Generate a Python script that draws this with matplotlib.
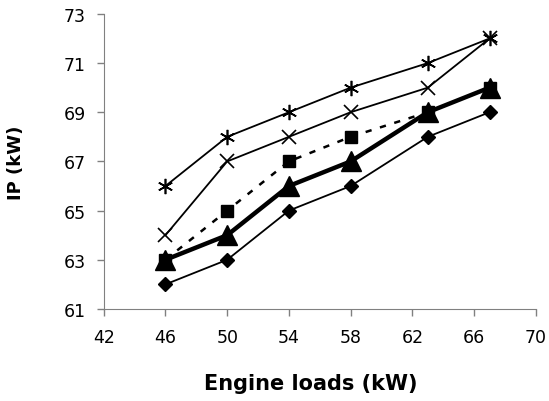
import matplotlib.pyplot as plt

# engine loads (kW)
loads = [46, 50, 54, 58, 63, 67]

# IP (kW) for each series
ip_star = [66, 68, 69, 70, 71, 72]
ip_cross = [64, 67, 68, 69, 70, 72]
ip_square = [63, 65, 67, 68, 69, 70]
ip_triangle = [63, 64, 66, 67, 69, 70]
ip_diamond = [62, 63, 65, 66, 68, 69]

xticks = [42, 46, 50, 54, 58, 62, 66, 70]
yticks = [61, 63, 65, 67, 69, 71, 73]

plt.rcParams['font.family'] = ['DejaVu Sans']

fig = plt.figure(figsize=(5.49, 4.02), dpi=100)
ax = fig.add_axes([0.189, 0.229, 0.787, 0.734])

ax.plot(loads, ip_star, '-', color='black', lw=1.3, marker=(6, 2, 0), ms=11, mew=1.2)
ax.plot(loads, ip_cross, '-', color='black', lw=1.3, marker='x', ms=10, mew=1.2)
ax.plot(loads, ip_square, color='black', lw=1.8, ls=(0, (2.5, 3.5)), marker='s', ms=8.5)
ax.plot(loads, ip_triangle, '-', color='black', lw=3.2, marker='^', ms=15)
ax.plot(loads, ip_diamond, '-', color='black', lw=1.3, marker='D', ms=7.5)

ax.set_xlim(42, 70)
ax.set_ylim(61, 73)
ax.set_xticks(xticks)
ax.set_yticks(yticks)
ax.tick_params(labelsize=12.5, color='#808080', length=5, width=1)
ax.tick_params(axis='x', pad=9)
ax.tick_params(axis='y', pad=8)
for s in ['top', 'right']:
    ax.spines[s].set_visible(False)
for s in ['left', 'bottom']:
    ax.spines[s].set_color('#808080')

ax.set_xlabel('Engine loads (kW)', fontsize=15, fontweight='bold', va='center')
ax.set_ylabel('IP (kW)', fontsize=13, fontweight='bold', va='center')
ax.xaxis.set_label_coords(0.48, -0.251)
ax.yaxis.set_label_coords(-0.202, 0.497)

fig.savefig('out.png', dpi=100)
